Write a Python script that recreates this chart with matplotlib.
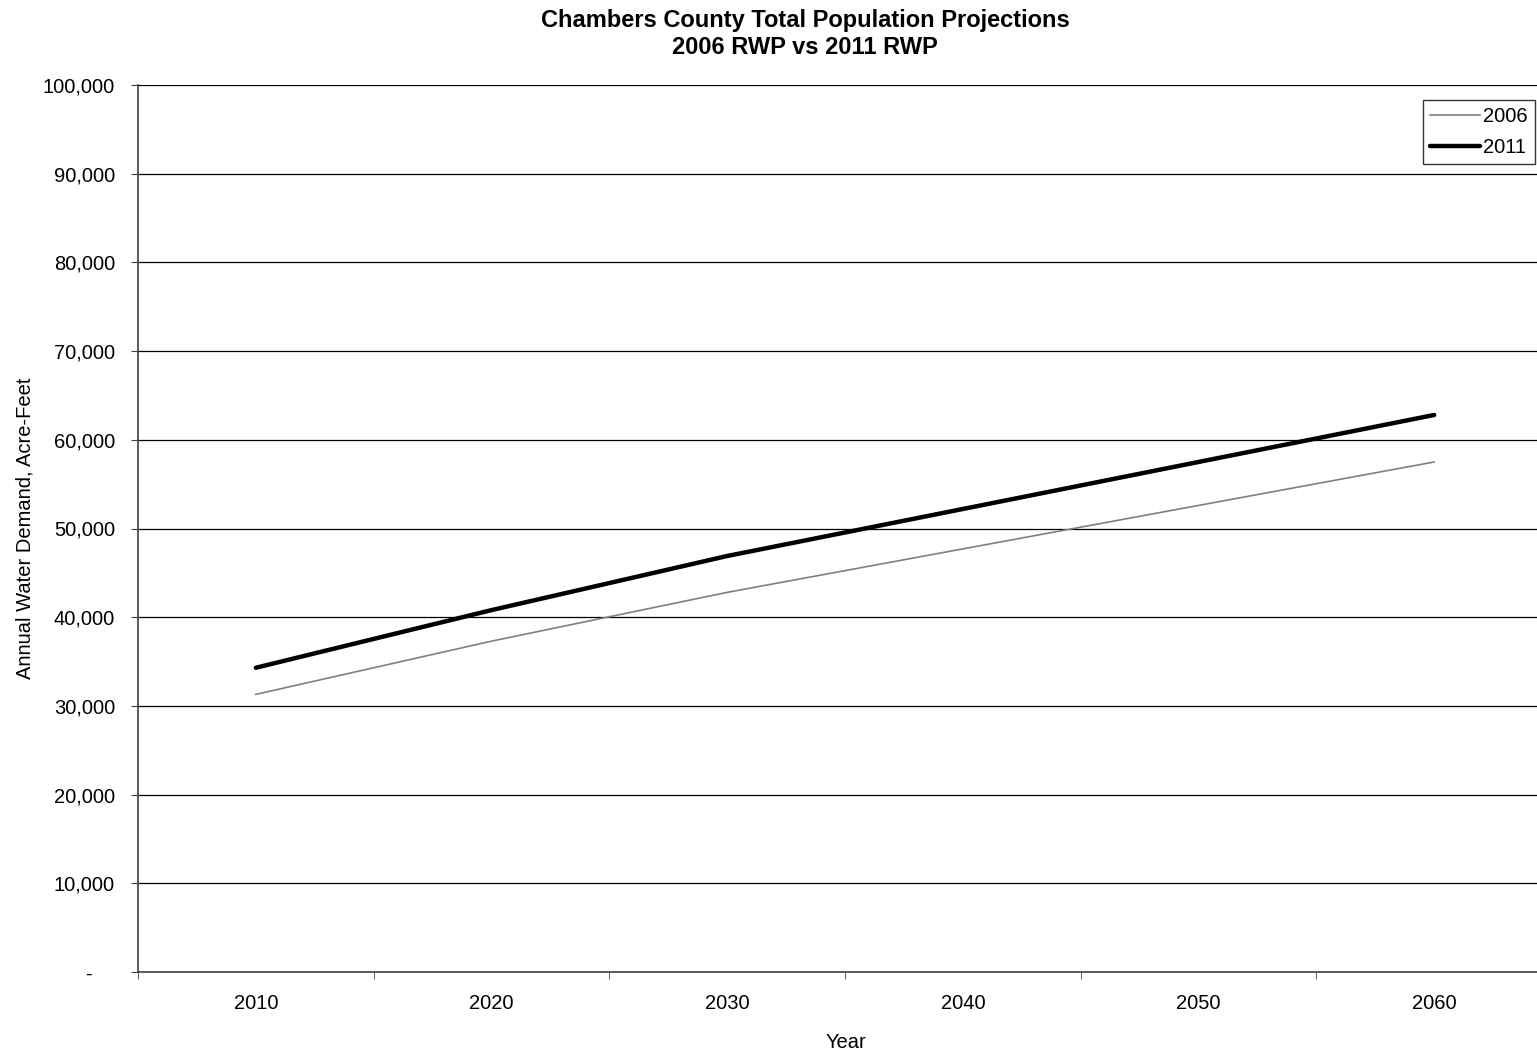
import numpy as np
import matplotlib.pyplot as plt
from matplotlib.ticker import FuncFormatter, FixedLocator

# data (acre-feet)
years = ["2010", "2020", "2030", "2040", "2050", "2060"]
rwp_2006 = [31300, 37300, 42800, 47700, 52600, 57500]
rwp_2011 = [34300, 40800, 46900, 52200, 57500, 62800]

plt.rcParams["font.family"] = ["Liberation Sans", "DejaVu Sans"]

fig = plt.figure(figsize=(15.37, 10.57), dpi=100)
ax = fig.add_axes([138 / 1537, (1057 - 972) / 1057, (1552 - 138) / 1537, (972 - 85) / 1057])

x = np.arange(1, len(years) + 1)
ax.plot(x, rwp_2006, color="#808080", lw=1.2, label="2006", zorder=3)
ax.plot(x, rwp_2011, color="black", lw=3.2, label="2011", zorder=4,
        solid_capstyle="round")

ax.set_xlim(0.5, len(years) + 0.5)
ax.set_ylim(0, 100000)

# category labels centred, tick marks between categories
ax.set_xticks(x)
ax.set_xticklabels(years, fontsize=14.5)
ax.tick_params(axis="x", which="major", length=0, pad=16)
ax.xaxis.set_minor_locator(FixedLocator(np.arange(0.5, len(years) + 1, 1)))
ax.tick_params(axis="x", which="minor", length=5, color="#404040", direction="out")

ax.set_yticks(np.arange(0, 100001, 10000))
ax.yaxis.set_major_formatter(FuncFormatter(lambda v, p: "-    " if v == 0 else f"{int(v):,}"))
ax.tick_params(axis="y", labelsize=14.5, length=5, color="#404040", pad=11.5)

ax.grid(axis="y", color="black", lw=0.9)
ax.set_axisbelow(True)
for s in ["top", "right"]:
    ax.spines[s].set_visible(False)
for s in ["left", "bottom"]:
    ax.spines[s].set_color("#404040")
    ax.spines[s].set_linewidth(1.2)

ax.set_xlabel("Year", fontsize=14.5)
ax.xaxis.set_label_coords((846 - 138) / 1414, -(1033 - 972) / 887)
ax.set_ylabel("Annual Water Demand, Acre-Feet", fontsize=14.5)
ax.yaxis.set_label_coords(-(138 - 35) / 1414, 0.5)

fig.text(805 / 1537, 1 - 20 / 1057, "Chambers County Total Population Projections",
         ha="center", va="center", fontsize=17, fontweight="bold")
fig.text(805 / 1537, 1 - 47 / 1057, "2006 RWP vs 2011 RWP",
         ha="center", va="center", fontsize=17, fontweight="bold")

leg = ax.legend(loc="upper left", bbox_to_anchor=(1423 / 1537, 1 - 100 / 1057),
                bbox_transform=fig.transFigure, fontsize=14.5, frameon=True,
                fancybox=False, edgecolor="black", handlelength=2.5,
                handletextpad=0.15, borderpad=0.35, labelspacing=0.6,
                borderaxespad=0)
leg.get_frame().set_linewidth(1.0)

fig.savefig("out.png", dpi=100)
